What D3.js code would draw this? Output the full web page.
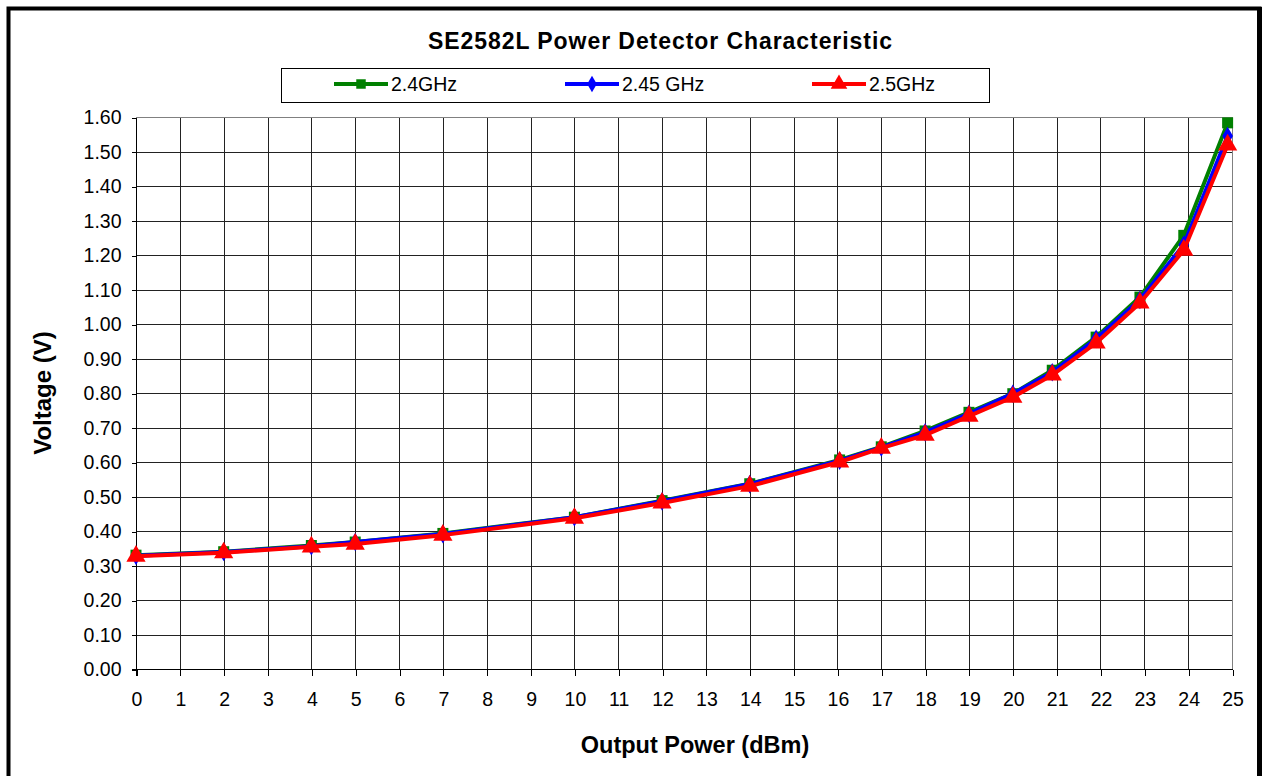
<!DOCTYPE html>
<html>
<head>
<meta charset="utf-8">
<script src="https://cdn.jsdelivr.net/npm/d3@7"></script>
<style>
  html, body { margin: 0; padding: 0; background: #fff; }
  svg { display: block; font-family: Arial, "Liberation Sans", sans-serif; }
</style>
</head>
<body>
<svg id="chart" width="1262" height="776"></svg>
<script>
// ---- data ----
const titleText = "SE2582L Power Detector Characteristic";
const xLabel = "Output Power (dBm)";
const yLabel = "Voltage (V)";
const seriesNames = ["2.4GHz", "2.45 GHz", "2.5GHz"];
const powerDbm = [0, 2, 4, 5, 7, 10, 12, 14, 16.05, 17, 18, 19, 20, 20.9, 21.9, 22.9, 23.9, 24.9];
const v24 = [0.330, 0.340, 0.358, 0.368, 0.393, 0.440, 0.488, 0.537, 0.606, 0.644, 0.690, 0.744, 0.798, 0.866, 0.962, 1.078, 1.257, 1.583];
const v245 = [0.328, 0.339, 0.356, 0.368, 0.391, 0.440, 0.486, 0.536, 0.604, 0.642, 0.686, 0.740, 0.798, 0.860, 0.957, 1.070, 1.230, 1.545];
const v25 = [0.327, 0.337, 0.354, 0.362, 0.388, 0.437, 0.481, 0.530, 0.600, 0.640, 0.678, 0.733, 0.788, 0.852, 0.945, 1.061, 1.214, 1.519];
const xTicks = d3.range(0, 26, 1);
const yTicks = d3.range(0, 17, 1).map(i => i / 10);

// ---- layout ----
const svg = d3.select("#chart");
const L = 136, R = 1232, T = 117, B = 669;
const x = d3.scaleLinear().domain([0, 25]).range([L, R]);
const y = d3.scaleLinear().domain([0, 1.6]).range([B, T]);

// outer frame
svg.append("path").attr("d", "M8.5,800V8.5H1259.5V800")
  .attr("fill", "none").attr("stroke", "#000").attr("stroke-width", 4);
svg.append("rect").attr("x", 1257).attr("y", 7).attr("width", 5).attr("height", 776).attr("fill", "#000");

// title
svg.append("text").attr("x", 660).attr("y", 49).attr("text-anchor", "middle")
  .attr("font-size", 23).attr("font-weight", "bold").attr("textLength", 464)
  .text(titleText);

// grid
const g = svg.append("g").attr("shape-rendering", "crispEdges");
g.selectAll(".vg").data(xTicks).join("line")
  .attr("x1", d => Math.round(x(d)) + 0.5).attr("x2", d => Math.round(x(d)) + 0.5)
  .attr("y1", T).attr("y2", B)
  .attr("stroke", d => (d === 25 ? "#808080" : "#222")).attr("stroke-width", 1);
g.selectAll(".hg").data(yTicks).join("line")
  .attr("y1", d => Math.round(y(d)) + 0.5).attr("y2", d => Math.round(y(d)) + 0.5)
  .attr("x1", L).attr("x2", R)
  .attr("stroke", d => (d === 1.6 ? "#808080" : "#222")).attr("stroke-width", 1);

// axes
const yAxis = d3.axisLeft(y).tickValues(yTicks).tickFormat(d3.format(".2f")).tickSize(5).tickPadding(10);
const xAxis = d3.axisBottom(x).tickValues(xTicks).tickFormat(d3.format("d")).tickSize(6).tickPadding(17);
const ya = svg.append("g").attr("transform", `translate(${L + 0.5},0.5)`).call(yAxis);
const xa = svg.append("g").attr("transform", `translate(0.5,${B + 0.5})`).call(xAxis);
[ya, xa].forEach(a => {
  a.select(".domain").attr("stroke", "#000").attr("shape-rendering", "crispEdges");
  a.selectAll(".tick line").attr("stroke", "#000").attr("shape-rendering", "crispEdges");
  a.selectAll("text").attr("font-size", 19.5).attr("fill", "#000")
    .attr("font-family", "Arial, 'Liberation Sans', sans-serif");
});
ya.select(".domain").attr("d", `M-5,${B}H0V${T}`);
xa.select(".domain").attr("d", `M${L},6V0H${R}`);

// axis labels
svg.append("text").attr("x", 695).attr("y", 753).attr("text-anchor", "middle")
  .attr("font-size", 23.5).attr("font-weight", "bold").text(xLabel);
svg.append("text").attr("transform", "translate(51,393) rotate(-90)").attr("text-anchor", "middle")
  .attr("font-size", 24).attr("font-weight", "bold").text(yLabel);

// series
const series = [
  { name: seriesNames[0], vals: v24, color: "#008000", shape: "square" },
  { name: seriesNames[1], vals: v245, color: "#0000ff", shape: "diamond" },
  { name: seriesNames[2], vals: v25, color: "#ff0000", shape: "triangle" }
];
const sym = {
  square: d3.symbol().type(d3.symbolSquare).size(121),
  diamond: d3.symbol().type(d3.symbolDiamond).size(100),
  triangle: d3.symbol().type(d3.symbolTriangle).size(160)
};
const symLeg = {
  square: d3.symbol().type(d3.symbolSquare).size(90),
  diamond: d3.symbol().type(d3.symbolDiamond).size(80),
  triangle: d3.symbol().type(d3.symbolTriangle).size(120)
};
const line = d3.line().x(d => x(d[0])).y(d => y(d[1]));
series.forEach(s => {
  const pts = powerDbm.map((p, i) => [p, s.vals[i]]);
  svg.append("path").datum(pts).attr("d", line).attr("fill", "none")
    .attr("stroke", s.color).attr("stroke-width", 4).attr("stroke-linejoin", "round");
  svg.append("g").selectAll("path").data(pts).join("path")
    .attr("transform", d => `translate(${x(d[0])},${y(d[1])})`)
    .attr("d", sym[s.shape]()).attr("fill", s.color);
});

// legend
svg.append("rect").attr("x", 281.5).attr("y", 68.5).attr("width", 708).attr("height", 34)
  .attr("fill", "#fff").attr("stroke", "#000").attr("stroke-width", 1);
const legX = [334, 565, 812];
series.forEach((s, i) => {
  const lx = legX[i], ly = 84;
  svg.append("line").attr("x1", lx).attr("x2", lx + 54).attr("y1", ly).attr("y2", ly)
    .attr("stroke", s.color).attr("stroke-width", 4);
  svg.append("path").attr("transform", `translate(${lx + 27},${ly})`)
    .attr("d", symLeg[s.shape]()).attr("fill", s.color);
  svg.append("text").attr("x", lx + 57).attr("y", ly + 7).attr("font-size", 19.5).text(s.name);
});
</script>
</body>
</html>
